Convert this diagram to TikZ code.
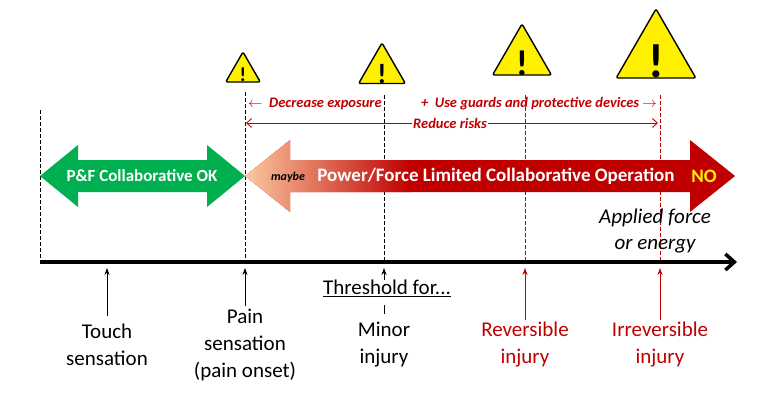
\documentclass[tikz,border=0pt]{standalone}
\usepackage{fontspec}
\setmainfont{Carlito}
\usetikzlibrary{arrows.meta,shapes.geometric}
\definecolor{darkred}{RGB}{192,0,0}
\definecolor{pfgreen}{RGB}{0,176,80}
\definecolor{peach}{RGB}{250,200,160}
\definecolor{warnyellow}{RGB}{255,240,0}
\tikzset{
  warn/.style={regular polygon, regular polygon sides=3, draw=black, line width=1.4pt,
    fill=warnyellow, rounded corners=2pt, inner sep=0pt, minimum size=#1},
  lbl/.style={align=center, font=\fontsize{21}{27}\selectfont},
  tick/.style={-{Stealth[length=7pt,width=5pt]}, line width=0.7pt},
  guide/.style={dash pattern=on 4pt off 2pt, line width=0.8pt},
  note/.style={text=darkred, font=\bfseries\itshape\fontsize{14.5}{16}\selectfont, inner sep=1pt}
}
\begin{document}
\begin{tikzpicture}[x=1pt,y=-1pt]
\useasboundingbox (0,0) rectangle (775,404);
% warning signs
\node[warn=40pt] (w1) at (243,72) {};
\node[warn=54pt] (w2) at (382,70) {};
\node[warn=68pt] (w3) at (522,58) {};
\node[warn=92pt] (w4) at (656,55) {};
\node[font=\bfseries\fontsize{20}{20}\selectfont] at (243,75) {!};
\node[font=\bfseries\fontsize{28}{28}\selectfont] at (382,74) {!};
\node[font=\bfseries\fontsize{36}{36}\selectfont] at (522,63) {!};
\node[font=\bfseries\fontsize{48}{48}\selectfont] at (656,61) {!};
% guide lines
\coordinate (g0) at (40,110);
\coordinate (g1) at (245,92);
\coordinate (g2) at (384,95);
\coordinate (g3) at (525,95);
\coordinate (g4) at (660,95);
\draw[guide] (g0) -- (40,262);
\draw[guide] (g1) -- (245,262);
\draw[guide] (g2) -- (384,262);
\draw[guide,darkred] (g3) -- (525,262);
\draw[guide,darkred] (g4) -- (660,262);
% measures
\node[note,anchor=west] (dec) at (247,104) {$\leftarrow$\ \ Decrease exposure};
\node[note,anchor=east] (use) at (658,104) {+\ \ Use guards and protective devices $\rightarrow$};
\node[note] (red) at (450,123) {Reduce risks};
\draw[darkred,line width=0.9pt,-{Straight Barb[length=5pt,width=9pt]}] (red.west) -- (246,123);
\draw[darkred,line width=0.9pt,-{Straight Barb[length=5pt,width=9pt]}] (red.east) -- (658,123);
% green band
\fill[pfgreen] (40,176) -- (78,145) -- (78,160) -- (207,160) -- (207,145) -- (245,176)
  -- (207,207) -- (207,192) -- (78,192) -- (78,207) -- cycle;
\node[text=white,font=\bfseries\fontsize{17}{17}\selectfont] (ok) at (142,176) {P\&F Collaborative OK};
% red band
\fill[darkred] (245,176) -- (290,140) -- (290,160) -- (690,160) -- (690,140) -- (735,176)
  -- (690,212) -- (690,192) -- (290,192) -- (290,212) -- cycle;
\begin{scope}
\clip (245,176) -- (290,140) -- (290,160) -- (420,160) -- (420,192) -- (290,192) -- (290,212) -- cycle;
\shade[left color=peach,right color=darkred] (245,130) rectangle (410,220);
\end{scope}
\node[font=\bfseries\itshape\fontsize{12}{12}\selectfont] (maybe) at (288,177) {maybe};
\node[text=white,font=\bfseries\fontsize{19}{19}\selectfont] (pfl) at (496,176) {Power/Force Limited Collaborative Operation};
\node[text=warnyellow,font=\bfseries\fontsize{19}{19}\selectfont] (no) at (704,176) {NO};
% axis
\coordinate (a0) at (40,262);
\coordinate (a1) at (737,262);
\draw[line width=3.5pt,-{Straight Barb[length=9pt,width=16pt]}] (a0) -- (a1);
\node[lbl,font=\itshape\fontsize{21}{26}\selectfont] (force) at (655,231) {Applied force\\or energy};
\node[font=\fontsize{21}{21}\selectfont] (thr) at (387,288) {\underline{Threshold for...}};
% thresholds
\node[lbl] (touch) at (107,345) {Touch\\sensation};
\node[lbl] (pain) at (245,345) {Pain\\sensation\\(pain onset)};
\node[lbl] (minor) at (384,345) {Minor\\injury};
\node[lbl,text=darkred] (rev) at (525,345) {Reversible\\injury};
\node[lbl,text=darkred] (irr) at (660,345) {Irreversible\\injury};
\draw[tick] (107,316) -- (107,268);
\draw[tick] (245,306) -- (245,268);
\draw[tick] (384,280) -- (384,268);
\draw[line width=0.7pt] (384,305) -- (384,314);
\draw[tick,darkred] (525,320) -- (525,268);
\draw[tick,darkred] (660,320) -- (660,268);
\end{tikzpicture}
\end{document}
